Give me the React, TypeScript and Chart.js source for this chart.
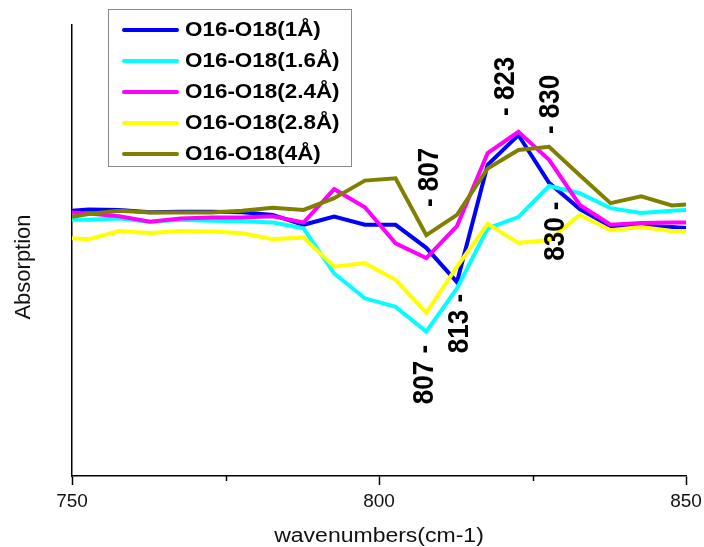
import React, { useEffect, useRef } from "react";
import { Chart, registerables } from "chart.js";

Chart.register(...registerables);

const wavenumbers = [750, 752.7, 757.7, 762.7, 767.7, 772.7, 777.7, 782.7, 787.7, 792.7, 797.7, 802.7, 807.7, 812.7, 817.7, 822.7, 827.7, 832.7, 837.7, 842.7, 847.7, 850];

const seriesLabels = ["O16-O18(1Å)", "O16-O18(1.6Å)", "O16-O18(2.4Å)", "O16-O18(2.8Å)", "O16-O18(4Å)"];
const seriesColors = ["#0000ff", "#00ffff", "#ff00ff", "#ffff00", "#808000"];

const s1 = [0.588, 0.591, 0.590, 0.585, 0.586, 0.586, 0.585, 0.579, 0.557, 0.575, 0.557, 0.557, 0.506, 0.430, 0.690, 0.756, 0.650, 0.592, 0.554, 0.555, 0.552, 0.550];
const s16 = [0.568, 0.568, 0.571, 0.564, 0.568, 0.566, 0.565, 0.562, 0.549, 0.449, 0.394, 0.375, 0.320, 0.416, 0.549, 0.574, 0.643, 0.627, 0.594, 0.583, 0.588, 0.590];
const s24 = [0.584, 0.582, 0.576, 0.564, 0.571, 0.573, 0.573, 0.576, 0.562, 0.636, 0.596, 0.516, 0.483, 0.554, 0.716, 0.763, 0.701, 0.601, 0.557, 0.561, 0.562, 0.562];
const s28 = [0.527, 0.525, 0.543, 0.539, 0.543, 0.542, 0.538, 0.525, 0.529, 0.464, 0.472, 0.435, 0.362, 0.464, 0.559, 0.517, 0.523, 0.579, 0.545, 0.552, 0.543, 0.543];
const s4 = [0.575, 0.581, 0.588, 0.584, 0.584, 0.584, 0.588, 0.595, 0.590, 0.616, 0.655, 0.660, 0.534, 0.579, 0.682, 0.723, 0.730, 0.667, 0.605, 0.620, 0.600, 0.602];

const seriesValues = [s1, s16, s24, s28, s4];

const xTicks = [750, 800, 850];
const xMinorTicks = [775, 825];

const peakLabels = ["- 807", "- 823", "- 830", "830 -", "813 -", "807 -"];
const peakX = [808.3, 820.7, 828.0, 828.8, 813.2, 807.5];
const peakY = [0.662, 0.864, 0.824, 0.543, 0.338, 0.225];

const FONT = '"Liberation Sans", Arial, sans-serif';

const decorPlugin = {
  id: "decor",
  afterDraw(chart: any) {
    const ctx = chart.ctx;
    const xs = chart.scales.x;
    const ys = chart.scales.y;
    const area = chart.chartArea;

    // minor ticks
    ctx.save();
    ctx.strokeStyle = "#000";
    ctx.lineWidth = 1.5;
    xMinorTicks.forEach((v) => {
      const px = Math.round(xs.getPixelForValue(v)) + 0.5;
      ctx.beginPath();
      ctx.moveTo(px, area.bottom);
      ctx.lineTo(px, area.bottom + 5);
      ctx.stroke();
    });
    ctx.restore();

    // x title
    ctx.save();
    ctx.fillStyle = "#111";
    ctx.font = `20px ${FONT}`;
    ctx.textAlign = "center";
    ctx.textBaseline = "middle";
    ctx.translate((area.left + area.right) / 2, 536);
    ctx.scale(1.15, 1);
    ctx.fillText("wavenumbers(cm-1)", 0, 0);
    ctx.restore();

    // y title
    ctx.save();
    ctx.fillStyle = "#111";
    ctx.font = `22px ${FONT}`;
    ctx.textAlign = "center";
    ctx.textBaseline = "middle";
    ctx.translate(24, 267);
    ctx.rotate(-Math.PI / 2);
    ctx.fillText("Absorption", 0, 0);
    ctx.restore();

    // peak annotations
    peakLabels.forEach((t, i) => {
      const px = xs.getPixelForValue(peakX[i]);
      const py = ys.getPixelForValue(peakY[i]);
      ctx.save();
      ctx.fillStyle = "#000";
      ctx.font = `bold 26px ${FONT}`;
      ctx.textAlign = "center";
      ctx.textBaseline = "middle";
      ctx.translate(px, py);
      ctx.scale(1.15, 1);
      ctx.rotate(-Math.PI / 2);
      ctx.fillText(t, 0, 0);
      ctx.restore();
    });

    // legend
    ctx.save();
    ctx.fillStyle = "#fff";
    ctx.fillRect(108.5, 9.5, 243, 157);
    ctx.strokeStyle = "#888";
    ctx.lineWidth = 1;
    ctx.strokeRect(108.5, 9.5, 243, 157);
    chart.data.datasets.forEach((ds: any, i: number) => {
      const y = 30 + i * 31;
      ctx.strokeStyle = ds.borderColor;
      ctx.lineWidth = 4;
      ctx.lineCap = "round";
      ctx.beginPath();
      ctx.moveTo(124, y);
      ctx.lineTo(177, y);
      ctx.stroke();
      ctx.save();
      ctx.fillStyle = "#000";
      ctx.font = `bold 19.5px ${FONT}`;
      ctx.textAlign = "left";
      ctx.textBaseline = "middle";
      ctx.translate(185, y + 1);
      ctx.scale(1.15, 1);
      ctx.fillText(ds.label, 0, 0);
      ctx.restore();
    });
    ctx.restore();
  },
};

export default function App() {
  const ref = useRef<HTMLCanvasElement | null>(null);

  useEffect(() => {
    document.body.style.margin = "0";
    if (!ref.current) return;
    const chart = new Chart(ref.current, {
      type: "line",
      data: {
        datasets: seriesLabels.map((label, i) => ({
          label,
          data: wavenumbers.map((x, j) => ({ x, y: seriesValues[i][j] })),
          borderColor: seriesColors[i],
          backgroundColor: seriesColors[i],
          borderWidth: 4,
          pointRadius: 0,
          tension: 0,
          fill: false,
          order: seriesLabels.length - i,
        })),
      },
      options: {
        responsive: false,
        animation: false,
        events: [],
        layout: { padding: { left: 0, right: 18, top: 25, bottom: 0 } },
        plugins: {
          legend: { display: false },
          tooltip: { enabled: false },
          title: { display: false },
        },
        scales: {
          x: {
            type: "linear",
            min: 750,
            max: 850,
            afterBuildTicks: (s: any) => {
              s.ticks = xTicks.map((v) => ({ value: v }));
            },
            afterFit: (s: any) => {
              s.height = 71;
              s.paddingLeft = 0;
              s.paddingRight = 0;
            },
            ticks: {
              color: "#111",
              font: { family: FONT, size: 19 },
              padding: 5,
              maxRotation: 0,
            },
            grid: {
              display: true,
              drawOnChartArea: false,
              drawTicks: true,
              tickLength: 9,
              tickColor: "#000",
              tickWidth: 1.5,
            },
            border: { display: true, color: "#000", width: 1.5 },
          },
          y: {
            type: "linear",
            min: 0,
            max: 1,
            afterFit: (s: any) => {
              s.width = 72;
              s.paddingTop = 0;
              s.paddingBottom = 0;
            },
            ticks: { display: false },
            grid: { display: false },
            border: { display: true, color: "#000", width: 1.5 },
          },
        },
      },
      plugins: [decorPlugin],
    });
    return () => chart.destroy();
  }, []);

  return (
    <div style={{ width: 704, height: 547 }}>
      <canvas ref={ref} width={704} height={547} />
    </div>
  );
}
